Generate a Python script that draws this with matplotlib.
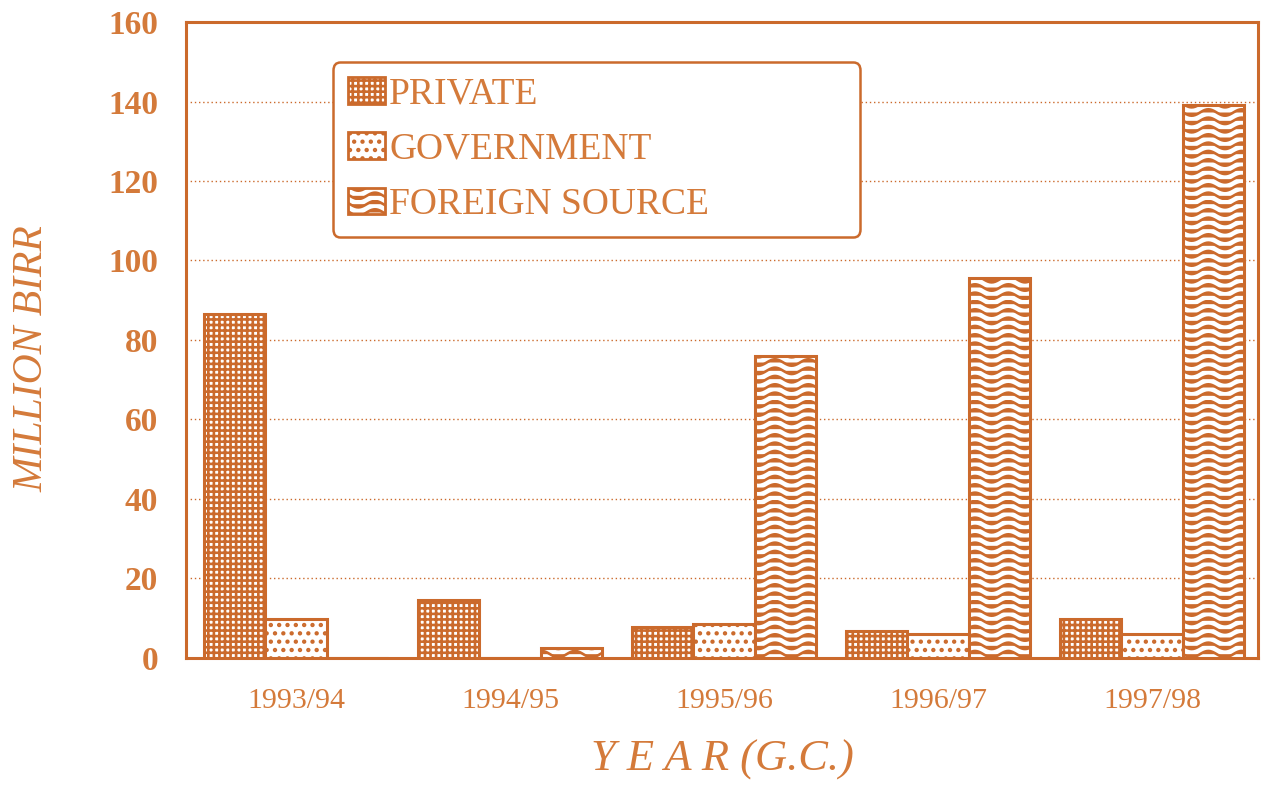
import numpy as np
import matplotlib
matplotlib.use("Agg")
import matplotlib.pyplot as plt
import matplotlib.hatch as mhatch
from matplotlib.path import Path
from matplotlib.patches import Patch

# ---- data ----
years = ["1993/94", "1994/95", "1995/96", "1996/97", "1997/98"]
private = [86.5, 14.5, 7.8, 6.8, 9.8]
government = [9.8, 0.0, 8.5, 6.0, 6.0]
foreign = [0.0, 2.5, 76.0, 95.5, 139.0]
series_names = ["PRIVATE", "GOVERNMENT", "FOREIGN SOURCE"]
yticks = [0, 20, 40, 60, 80, 100, 120, 140, 160]

LINE = "#CB6A2C"
TEXT = "#D47A3A"


# custom wave hatch (replaces the '*' star hatch)
class WaveHatch(mhatch.HatchPatternBase):
    periods = 3
    npts = 61

    def __init__(self, hatch, density):
        self.num_lines = int(hatch.count('*') * density)
        self.num_vertices = self.num_lines * self.npts

    def set_vertices_and_codes(self, vertices, codes):
        steps, stepsize = np.linspace(0.0, 1.0, self.num_lines, False, retstep=True)
        steps += stepsize / 2.0
        xs = np.linspace(0.0, 1.0, self.npts)
        amp = 0.032
        for i, s in enumerate(steps):
            v = vertices[i * self.npts:(i + 1) * self.npts]
            v[:, 0] = xs
            v[:, 1] = s + amp * np.sin(2 * np.pi * self.periods * xs)
            c = codes[i * self.npts:(i + 1) * self.npts]
            c[0] = Path.MOVETO
            c[1:] = Path.LINETO


mhatch._hatch_types = [h for h in mhatch._hatch_types if h.__name__ != "Stars"] + [WaveHatch]

plt.rcParams['hatch.linewidth'] = 1.9
plt.rcParams['font.family'] = ['Liberation Serif', 'DejaVu Serif']

fig = plt.figure(figsize=(12.65, 7.87), dpi=100)
ax = fig.add_axes([0.147, 0.164, 0.8475, 0.808])

x = np.arange(len(years))
w = 0.286
hatches = ['+++', '..', '**']
for k, (vals, h) in enumerate(zip([private, government, foreign], hatches)):
    ax.bar(x + (k - 1) * w, vals, width=w, facecolor='white', edgecolor=LINE,
           hatch=h, linewidth=2.2, zorder=3)

ax.set_xlim(-0.514, 4.495)
ax.set_ylim(0, 160)
ax.set_yticks(yticks)
ax.set_xticks(x)
ax.set_xticklabels(years)
ax.tick_params(axis='both', length=0, colors=TEXT)
ax.tick_params(axis='y', pad=20, labelsize=24)
ax.tick_params(axis='x', pad=22, labelsize=21.5)
for lab in ax.get_yticklabels():
    lab.set_weight('bold')
for s in ax.spines.values():
    s.set_color(LINE)
    s.set_linewidth(2.2)

for yv in yticks[1:-1]:
    ax.axhline(yv, color=LINE, linestyle=(0, (1, 2)), linewidth=1.0, zorder=1)

ax.set_ylabel("MILLION BIRR", fontsize=30, style='italic', color=TEXT)
ax.yaxis.set_label_coords(-0.125, 0.47)
ax.set_xlabel("Y E A R (G.C.)", fontsize=32, style='italic', color=TEXT, labelpad=18)

handles = [Patch(facecolor='white', edgecolor=LINE, hatch=h, linewidth=2) for h in hatches]
leg = ax.legend(handles, series_names, loc='upper left',
                bbox_to_anchor=(0.137, 0.673, 0.492, 0.264), mode='expand',
                frameon=True, fancybox=True, fontsize=27, handlelength=1.0,
                handleheight=0.7, handletextpad=0.1, labelspacing=0.55,
                borderpad=0.4, borderaxespad=0)
leg.get_frame().set_edgecolor(LINE)
leg.get_frame().set_linewidth(1.8)
leg.get_frame().set_alpha(1)
leg.set_zorder(5)
for t in leg.get_texts():
    t.set_color(TEXT)

fig.savefig("out.png", dpi=100, facecolor='white')
